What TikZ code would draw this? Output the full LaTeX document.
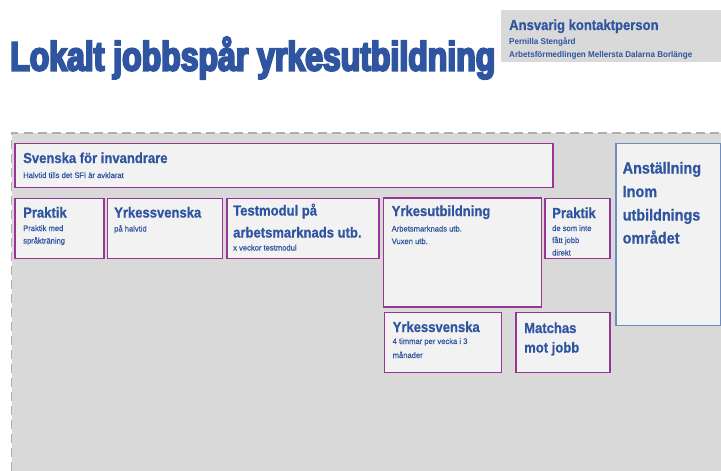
\documentclass[tikz,border=0pt]{standalone}
\usepackage{fontspec}
\setmainfont{Liberation Sans}
\newfontfamily\hfont{Liberation Sans Bold}[FakeStretch=0.9, FakeBold=0.8]
\newfontfamily\sfont{Liberation Sans}[FakeStretch=0.95, FakeBold=0.4]
\newfontfamily\cfont{Liberation Sans Bold}[FakeStretch=0.95]
\newfontfamily\titlefont{Liberation Sans Bold}[FakeStretch=0.78, FakeBold=5]
\usetikzlibrary{shadows}
\definecolor{txtblue}{RGB}{47,85,160}
\definecolor{purp}{RGB}{150,55,150}
\definecolor{anstb}{RGB}{110,140,190}
\definecolor{bggray}{RGB}{217,217,217}
\definecolor{boxfill}{RGB}{242,242,242}
\definecolor{dashgray}{RGB}{175,175,175}
\tikzset{
  box/.style={draw=purp, line width=1.6pt, fill=boxfill, anchor=north west, inner sep=0pt,
    drop shadow={shadow xshift=0.8pt, shadow yshift=-0.8pt, opacity=0.25}},
  abox/.style={box, draw=anstb},
  ttl/.style={anchor=base west, inner sep=0pt, text=txtblue, font=\hfont\fontsize{14.5}{17}\selectfont},
  bigttl/.style={ttl, font=\hfont\fontsize{16}{19}\selectfont},
  sub/.style={anchor=base west, inner sep=0pt, text=txtblue, font=\sfont\fontsize{8}{10}\selectfont},
  csub/.style={sub, font=\cfont\fontsize{8.5}{10}\selectfont},
}
\begin{document}
\begin{tikzpicture}[x=1pt,y=-1pt]
\useasboundingbox (0,0) rectangle (721,471);
% title
\node[anchor=base west, inner sep=0pt, text=txtblue, font=\titlefont\fontsize{41}{43}\selectfont] (title) at (10,70.5) {Lokalt jobbspår yrkesutbildning};
% contact box
\node[fill=bggray, anchor=north west, minimum width=220pt, minimum height=52pt, inner sep=0pt] (contact) at (501,10) {};
\node[ttl] (ct1) at (509,30) {Ansvarig kontaktperson};
\node[csub] (ct2) at (509,45) {Pernilla Stengård};
\node[csub] (ct3) at (509,57.5) {Arbetsförmedlingen Mellersta Dalarna Borlänge};
% big dashed area
\fill[bggray] (11.5,133) rectangle (721,471);
\draw[dashgray, line width=1.4pt, dash pattern=on 9pt off 5pt] (11.5,471) -- (11.5,133) -- (721,133);
% SFI
\node[box, minimum width=538pt, minimum height=44pt] (sfi) at (14,142.5) {};
\node[ttl] (sfit) at (23,163) {Svenska för invandrare};
\node[sub] (sfis) at (23,178) {Halvtid tills det SFI är avklarat};
% Praktik
\node[box, minimum width=89pt, minimum height=60pt] (prak) at (14,197.5) {};
\node[ttl] (prakt) at (23,217.5) {Praktik};
\node[sub] (praks1) at (23,231) {Praktik med};
\node[sub] (praks2) at (23,243.5) {språkträning};
% Yrkessvenska
\node[box, minimum width=115pt, minimum height=60pt] (ysv) at (106.5,197.5) {};
\node[ttl] (ysvt) at (114,217.5) {Yrkessvenska};
\node[sub] (ysvs) at (114,231.5) {på halvtid};
% Testmodul
\node[box, minimum width=152pt, minimum height=60pt] (test) at (226,197.5) {};
\node[ttl] (testt1) at (233,215.5) {Testmodul på};
\node[ttl] (testt2) at (233,237.5) {arbetsmarknads utb.};
\node[sub] (tests) at (233,250.5) {x veckor testmodul};
% Yrkesutbildning
\node[box, minimum width=158pt, minimum height=109pt] (yutb) at (382.5,197) {};
\node[ttl] (yutbt) at (391.5,216) {Yrkesutbildning};
\node[sub] (yutbs1) at (391.5,231.5) {Arbetsmarknads utb.};
\node[sub] (yutbs2) at (391.5,244) {Vuxen utb.};
% Praktik 2
\node[box, minimum width=65pt, minimum height=60pt] (prak2) at (544,197.5) {};
\node[ttl] (prak2t) at (552,218) {Praktik};
\node[sub] (prak2s1) at (552,231) {de som inte};
\node[sub] (prak2s2) at (552,243) {fått jobb};
\node[sub] (prak2s3) at (552,255.5) {direkt};
% Anställning
\node[abox, minimum width=105pt, minimum height=182pt] (anst) at (615,142.5) {};
\node[bigttl] (anst1) at (622.5,173.5) {Anställning};
\node[bigttl] (anst2) at (622.5,197) {Inom};
\node[bigttl] (anst3) at (622.5,220.5) {utbildnings};
\node[bigttl] (anst4) at (622.5,243.5) {området};
% Yrkessvenska 2
\node[box, minimum width=117pt, minimum height=60pt] (ysv2) at (383.5,311.5) {};
\node[ttl] (ysv2t) at (392.5,332) {Yrkessvenska};
\node[sub] (ysv2s1) at (392.5,344) {4 timmar per vecka i 3};
\node[sub] (ysv2s2) at (392.5,358) {månader};
% Matchas
\node[box, minimum width=94pt, minimum height=60pt] (match) at (515,311.5) {};
\node[ttl] (match1) at (524,333) {Matchas};
\node[ttl] (match2) at (524,352.5) {mot jobb};
\end{tikzpicture}
\end{document}
